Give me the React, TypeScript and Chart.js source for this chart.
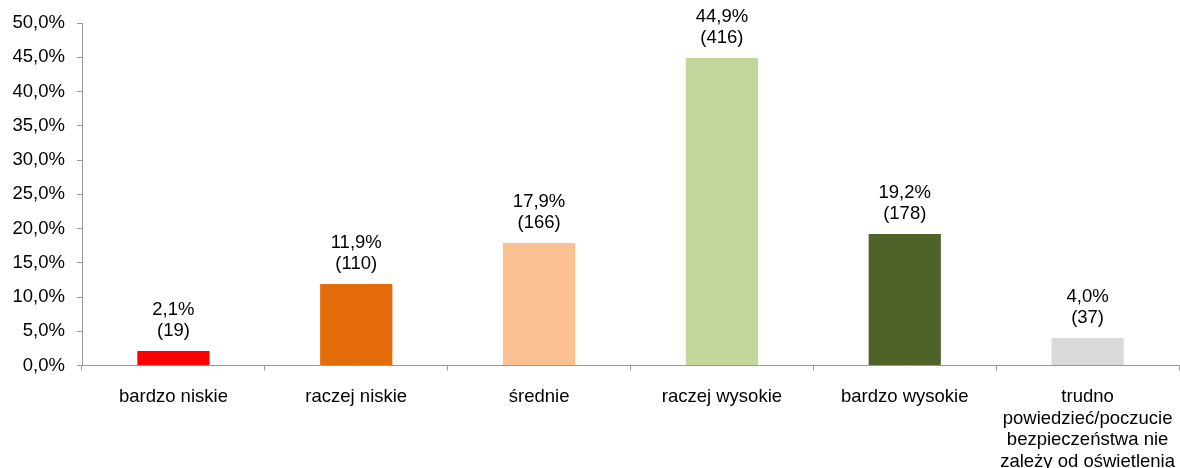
import React, { useEffect, useRef } from "react";
import { Chart, registerables } from "chart.js";

Chart.register(...registerables);

const categories: (string | string[])[] = [
  "bardzo niskie",
  "raczej niskie",
  "średnie",
  "raczej wysokie",
  "bardzo wysokie",
  ["trudno", "powiedzieć/poczucie", "bezpieczeństwa nie", "zależy od oświetlenia"],
];
const percentValues = [2.1, 11.9, 17.9, 44.9, 19.2, 4.0];
const counts = [19, 110, 166, 416, 178, 37];
const barColors = ["#FF0000", "#E46C0A", "#FAC090", "#C3D69B", "#4F6228", "#D9D9D9"];

const FONT = "'Liberation Sans', Arial, sans-serif";
const FONT_SIZE = 18.5;

const fmt = (v: number) => v.toFixed(1).replace(".", ",");

const labelPlugin = {
  id: "barLabels",
  afterDatasetsDraw(chart: any) {
    const ctx = chart.ctx;
    const meta = chart.getDatasetMeta(0);
    ctx.save();
    ctx.font = `${FONT_SIZE}px ${FONT}`;
    ctx.fillStyle = "#000";
    ctx.textAlign = "center";
    ctx.textBaseline = "middle";
    meta.data.forEach((bar: any, i: number) => {
      const x = bar.x;
      const y = bar.y;
      ctx.fillText(`${fmt(percentValues[i])}%`, x, y - 41);
      ctx.fillText(`(${counts[i]})`, x, y - 20);
    });
    ctx.restore();
  },
};

export default function App() {
  const ref = useRef<HTMLCanvasElement | null>(null);
  useEffect(() => {
    if (!ref.current) return;
    const chart = new Chart(ref.current, {
      type: "bar",
      data: {
        labels: categories,
        datasets: [
          {
            data: percentValues,
            backgroundColor: barColors,
            borderWidth: 0,
            categoryPercentage: 1,
            barPercentage: 0.395,
          },
        ],
      },
      options: {
        responsive: false,
        animation: false,
        devicePixelRatio: 1,
        layout: { padding: { top: 21, right: 1, left: 0, bottom: 0 } },
        plugins: {
          legend: { display: false },
          tooltip: { enabled: false },
        },
        scales: {
          x: {
            offset: true,
            grid: {
              offset: true,
              drawOnChartArea: false,
              drawTicks: true,
              tickLength: 5,
              color: "#999999",
            },
            border: { display: true, color: "#999999", width: 1 },
            ticks: {
              color: "#000",
              font: { family: FONT, size: FONT_SIZE, lineHeight: 1.16 },
              padding: 16,
              maxRotation: 0,
              autoSkip: false,
            },
            afterFit(scale: any) {
              scale.height = 102.5;
              scale.paddingLeft = 0;
              scale.paddingRight = 0;
            },
          },
          y: {
            min: 0,
            max: 50,
            grid: {
              drawOnChartArea: false,
              drawTicks: true,
              tickLength: 5,
              color: "#999999",
            },
            border: { display: true, color: "#999999", width: 1 },
            ticks: {
              stepSize: 5,
              color: "#000",
              font: { family: FONT, size: FONT_SIZE },
              padding: 12,
              callback: (v: any) => `${fmt(Number(v))}%`,
            },
            afterFit(scale: any) {
              scale.width = 82;
            },
          },
        },
      },
      plugins: [labelPlugin],
    });
    return () => chart.destroy();
  }, []);
  return (
    <div style={{ position: "fixed", left: 0, top: 0, width: 1180, height: 468, background: "#fff" }}>
      <canvas ref={ref} width={1180} height={468} style={{ display: "block" }} />
    </div>
  );
}
